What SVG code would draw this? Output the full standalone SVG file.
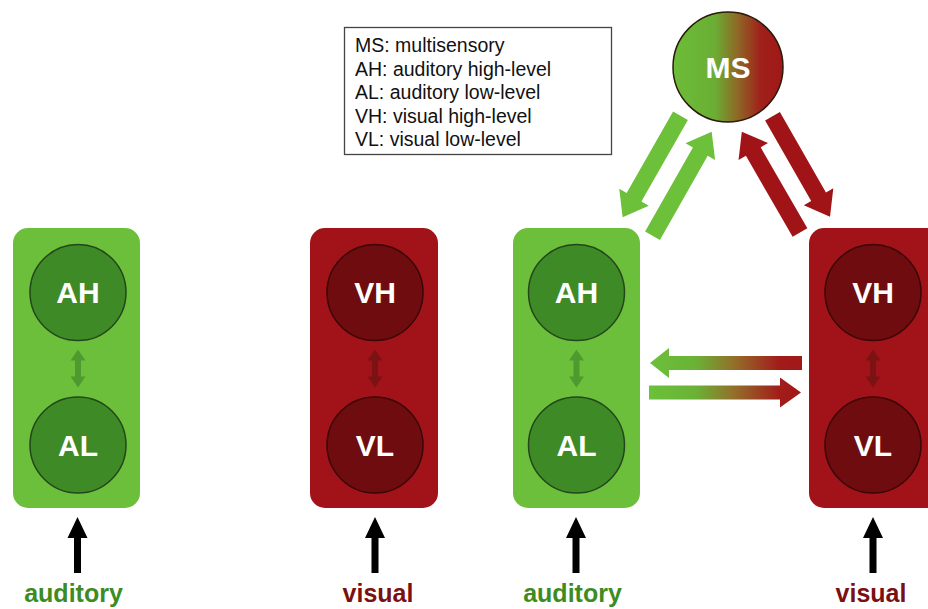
<svg xmlns="http://www.w3.org/2000/svg" width="928" height="609" viewBox="0 0 928 609">
<defs>
<linearGradient id="msGrad" x1="0" y1="0" x2="1" y2="0">
<stop offset="0" stop-color="#6cbd38"/>
<stop offset="0.38" stop-color="#6aae34"/>
<stop offset="0.58" stop-color="#8e6a26"/>
<stop offset="0.8" stop-color="#a0201a"/>
<stop offset="1" stop-color="#a01818"/>
</linearGradient>
<linearGradient id="hGrad" gradientUnits="userSpaceOnUse" x1="650" y1="0" x2="802" y2="0">
<stop offset="0" stop-color="#6cc03a"/>
<stop offset="0.3" stop-color="#6ab236"/>
<stop offset="0.55" stop-color="#93702a"/>
<stop offset="0.85" stop-color="#a21c1a"/>
<stop offset="1" stop-color="#a01818"/>
</linearGradient>
<polygon id="blk" points="-3.5,0 -3.5,-35 -10,-35 0,-56 10,-35 3.5,-35 3.5,0"/>
<polygon id="dbl" points="-3,-8 -7.5,-8 0,-19 7.5,-8 3,-8 3,8 7.5,8 0,19 -7.5,8 -3,8"/>
</defs>
<style>
.gbox{fill:#6cbf3a}
.rbox{fill:#a11318}
.gc{fill:#3e8a27;stroke:#24461a;stroke-width:1.5}
.rc{fill:#6f0c0f;stroke:#3a0607;stroke-width:1.5}
.nt{font-family:"Liberation Sans",Arial,sans-serif;font-weight:bold;font-size:30px;fill:#ffffff;text-anchor:middle}
.lab{font-family:"Liberation Sans",Arial,sans-serif;font-weight:bold;font-size:25px;text-anchor:middle}
.leg{font-family:"Liberation Sans",Arial,sans-serif;font-size:19.5px;fill:#111111}
.gda{fill:#4f9a2e}
.rda{fill:#7d1215}
</style>

<!-- legend -->
<g id="legend">
<rect x="344.5" y="27.5" width="267" height="127" fill="#ffffff" stroke="#444444" stroke-width="1.3"/>
<text class="leg" x="355" y="52">MS: multisensory</text>
<text class="leg" x="355" y="75.5">AH: auditory high-level</text>
<text class="leg" x="355" y="99">AL: auditory low-level</text>
<text class="leg" x="355" y="122.5">VH: visual high-level</text>
<text class="leg" x="355" y="146">VL: visual low-level</text>
</g>

<!-- left auditory column -->
<g id="auditory1">
<rect class="gbox" x="13" y="228" width="127" height="280" rx="15"/>
<g id="AH1"><circle class="gc" cx="78" cy="292.5" r="48"/><text class="nt" x="78" y="303">AH</text></g>
<g id="AL1"><circle class="gc" cx="78" cy="445" r="48"/><text class="nt" x="78" y="455.5">AL</text></g>
</g>

<!-- left visual column -->
<g id="visual1">
<rect class="rbox" x="310" y="228" width="128" height="280" rx="15"/>
<g id="VH1"><circle class="rc" cx="375" cy="292.5" r="48"/><text class="nt" x="375" y="303">VH</text></g>
<g id="VL1"><circle class="rc" cx="375" cy="445" r="48"/><text class="nt" x="375" y="455.5">VL</text></g>
</g>

<!-- right auditory column -->
<g id="auditory2">
<rect class="gbox" x="513" y="228" width="127" height="280" rx="15"/>
<g id="AH2"><circle class="gc" cx="576.5" cy="292.5" r="48"/><text class="nt" x="576.5" y="303">AH</text></g>
<g id="AL2"><circle class="gc" cx="576.5" cy="445" r="48"/><text class="nt" x="576.5" y="455.5">AL</text></g>
</g>

<!-- right visual column -->
<g id="visual2">
<rect class="rbox" x="809" y="228" width="140" height="280" rx="15"/>
<g id="VH2"><circle class="rc" cx="873" cy="292.5" r="48"/><text class="nt" x="873" y="303">VH</text></g>
<g id="VL2"><circle class="rc" cx="873" cy="445" r="48"/><text class="nt" x="873" y="455.5">VL</text></g>
</g>

<!-- multisensory -->
<g id="MS">
<circle cx="728" cy="67" r="55" fill="url(#msGrad)" stroke="#2a1a0a" stroke-width="1.5"/>
<text class="nt" x="728" y="77.5">MS</text>
</g>

<!-- connectors -->
<g id="connectors">
<use href="#dbl" class="gda" x="78" y="368.5"/>
<use href="#dbl" class="rda" x="375" y="368.5"/>
<use href="#dbl" class="gda" x="576.5" y="368.5"/>
<use href="#dbl" class="rda" x="873" y="368.5"/>

<use href="#blk" fill="#000000" x="77.5" y="573"/>
<use href="#blk" fill="#000000" x="375" y="573"/>
<use href="#blk" fill="#000000" x="576" y="573"/>
<use href="#blk" fill="#000000" x="873" y="573"/>

<polygon fill="#6cc03a" transform="translate(680.5,115.8) rotate(119.7)" points="0,-8.5 93.8,-8.5 93.8,-17 116.8,0 93.8,17 93.8,8.5 0,8.5"/>
<polygon fill="#6cc03a" transform="translate(652.5,235.8) rotate(-60.4)" points="0,-8.5 96.8,-8.5 96.8,-17 119.8,0 96.8,17 96.8,8.5 0,8.5"/>
<polygon fill="#a01418" transform="translate(800,232.5) rotate(-120)" points="0,-8.5 93.4,-8.5 93.4,-17 116.4,0 93.4,17 93.4,8.5 0,8.5"/>
<polygon fill="#a01418" transform="translate(772.5,116.3) rotate(60.2)" points="0,-8.5 92.7,-8.5 92.7,-17 115.7,0 92.7,17 92.7,8.5 0,8.5"/>

<polygon fill="url(#hGrad)" points="802,356 669,356 669,348 650,363 669,378 669,370 802,370"/>
<polygon fill="url(#hGrad)" points="649,385.5 780,385.5 780,377.5 801,392.5 780,407.5 780,399.5 649,399.5"/>
</g>

<!-- input labels -->
<g id="labels">
<text class="lab" x="73.5" y="602" fill="#3d8c1f">auditory</text>
<text class="lab" x="378" y="602" fill="#7a1012">visual</text>
<text class="lab" x="572.5" y="602" fill="#3d8c1f">auditory</text>
<text class="lab" x="871" y="602" fill="#7a1012">visual</text>
</g>
</svg>
